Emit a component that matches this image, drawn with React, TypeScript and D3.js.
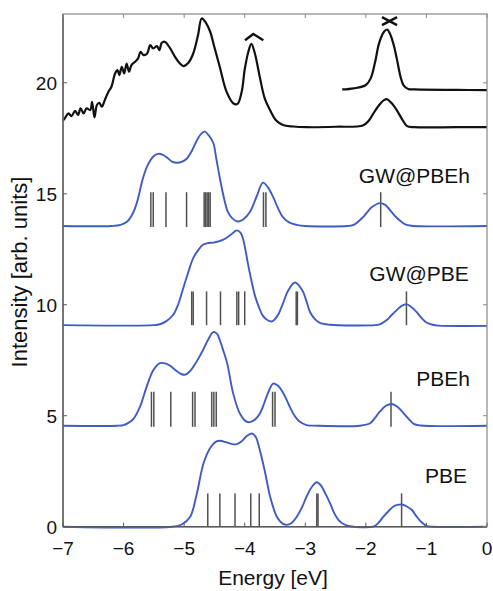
import React from "react";
import * as d3 from "d3";

// ---------- data ----------
const xTicks = [-7, -6, -5, -4, -3, -2, -1, 0];
const yTicks = [0, 5, 10, 15, 20];

// experimental spectrum (lower trace)
const expMain: [number, number][] = [
  [-7.0, 18.3], [-6.97, 18.4], [-6.91, 18.62], [-6.86, 18.5], [-6.8, 18.74], [-6.75, 18.55],
  [-6.71, 18.85], [-6.66, 18.62], [-6.61, 18.85], [-6.55, 18.77], [-6.52, 19.14], [-6.48, 18.44],
  [-6.44, 19.0], [-6.4, 19.1], [-6.36, 18.92], [-6.31, 19.22], [-6.25, 19.6], [-6.2, 19.82],
  [-6.14, 20.42], [-6.1, 20.57], [-6.07, 20.35], [-6.03, 20.72], [-5.99, 20.42], [-5.95, 20.87],
  [-5.91, 20.5], [-5.87, 20.8], [-5.81, 20.95], [-5.76, 21.1], [-5.72, 21.4], [-5.67, 21.25],
  [-5.61, 21.32], [-5.56, 21.7], [-5.51, 21.55], [-5.45, 21.65], [-5.41, 21.47], [-5.37, 21.8],
  [-5.32, 21.85], [-5.23, 21.55], [-5.15, 21.17], [-5.07, 20.87], [-5.01, 20.75], [-4.93, 20.9],
  [-4.85, 21.32], [-4.77, 22.15], [-4.71, 22.9], [-4.64, 22.7], [-4.57, 22.3], [-4.5, 21.6],
  [-4.41, 20.7], [-4.3, 19.6], [-4.19, 19.08], [-4.12, 19.05], [-4.05, 19.6], [-4.0, 20.6],
  [-3.94, 21.4], [-3.89, 21.75], [-3.83, 21.3], [-3.75, 20.25], [-3.67, 19.3], [-3.58, 18.76],
  [-3.48, 18.3], [-3.37, 18.1], [-3.2, 18.03], [-2.97, 18.0], [-2.5, 18.02], [-2.05, 18.08],
  [-1.95, 18.3], [-1.88, 18.6], [-1.78, 19.0], [-1.7, 19.22], [-1.65, 19.26], [-1.58, 19.1],
  [-1.49, 18.77], [-1.4, 18.35], [-1.32, 18.05], [-1.2, 18.0], [-0.5, 18.0], [0, 18.0],
];
// experimental spectrum (upper trace)
const expUpper: [number, number][] = [
  [-2.39, 19.7], [-2.2, 19.75], [-2.0, 19.9], [-1.92, 20.2], [-1.85, 20.9], [-1.78, 21.8],
  [-1.7, 22.3], [-1.65, 22.4], [-1.6, 22.2], [-1.54, 21.7], [-1.49, 21.1], [-1.43, 20.3],
  [-1.38, 19.9], [-1.3, 19.72], [-1.2, 19.7], [-0.5, 19.68], [0, 19.67],
];

const pbe: [number, number][] = [
  [-7, 0], [-5.2, 0], [-5.04, 0.1], [-4.9, 0.45], [-4.79, 1.5], [-4.68, 2.86], [-4.57, 3.55],
  [-4.48, 3.82], [-4.41, 3.87], [-4.3, 3.8], [-4.2, 3.72], [-4.13, 3.72], [-4.05, 3.85],
  [-3.97, 4.08], [-3.88, 4.2], [-3.82, 4.05], [-3.75, 3.45], [-3.66, 2.4], [-3.58, 1.35],
  [-3.47, 0.45], [-3.38, 0.15], [-3.31, 0.08], [-3.22, 0.18], [-3.14, 0.45], [-3.05, 0.9],
  [-2.98, 1.35], [-2.89, 1.8], [-2.81, 2.0], [-2.74, 1.85], [-2.67, 1.5], [-2.59, 1.05],
  [-2.52, 0.6], [-2.45, 0.3], [-2.37, 0.12], [-2.26, 0.02], [-1.88, 0], [-1.8, 0.15],
  [-1.71, 0.45], [-1.62, 0.72], [-1.55, 0.9], [-1.48, 0.98], [-1.41, 1.0], [-1.33, 0.92],
  [-1.24, 0.75], [-1.16, 0.45], [-1.08, 0.2], [-0.99, 0.03], [-0.9, 0], [0, 0],
];
const pbeh: [number, number][] = [
  [-7, 4.55], [-6.1, 4.55], [-6.0, 4.58], [-5.92, 4.68], [-5.84, 4.85], [-5.73, 5.4],
  [-5.62, 6.3], [-5.51, 7.05], [-5.4, 7.37], [-5.3, 7.35], [-5.23, 7.25], [-5.14, 7.05],
  [-5.05, 6.88], [-4.98, 6.85], [-4.9, 7.02], [-4.85, 7.2], [-4.77, 7.55], [-4.69, 7.95],
  [-4.6, 8.45], [-4.52, 8.77], [-4.46, 8.7], [-4.41, 8.4], [-4.35, 7.9], [-4.29, 7.37],
  [-4.19, 6.0], [-4.08, 5.1], [-3.97, 4.73], [-3.9, 4.72], [-3.82, 4.85], [-3.75, 5.1],
  [-3.68, 5.55], [-3.62, 6.0], [-3.53, 6.45], [-3.45, 6.35], [-3.36, 6.0], [-3.28, 5.55],
  [-3.2, 5.1], [-3.1, 4.75], [-2.98, 4.58], [-2.8, 4.55], [-2.1, 4.55], [-1.93, 4.66],
  [-1.85, 4.9], [-1.77, 5.18], [-1.67, 5.45], [-1.57, 5.53], [-1.48, 5.4], [-1.38, 5.12],
  [-1.29, 4.85], [-1.21, 4.63], [-1.1, 4.56], [0, 4.55],
];
const gwPbe: [number, number][] = [
  [-7, 9.08], [-5.5, 9.08], [-5.4, 9.12], [-5.3, 9.25], [-5.18, 9.55], [-5.1, 10.0],
  [-5.02, 10.7], [-4.94, 11.4], [-4.85, 12.1], [-4.77, 12.45], [-4.69, 12.7], [-4.6, 12.78],
  [-4.52, 12.8], [-4.44, 12.85], [-4.36, 12.92], [-4.28, 13.05], [-4.21, 13.2], [-4.13, 13.35],
  [-4.07, 13.25], [-4.03, 13.0], [-3.99, 12.5], [-3.95, 11.9], [-3.89, 11.1], [-3.83, 10.4],
  [-3.76, 9.85], [-3.7, 9.5], [-3.62, 9.3], [-3.55, 9.25], [-3.46, 9.5], [-3.38, 9.98],
  [-3.28, 10.65], [-3.17, 11.0], [-3.05, 10.65], [-2.98, 10.15], [-2.92, 9.66], [-2.84, 9.35],
  [-2.76, 9.18], [-2.6, 9.1], [-1.85, 9.08], [-1.77, 9.12], [-1.66, 9.3], [-1.57, 9.55],
  [-1.49, 9.76], [-1.41, 9.95], [-1.33, 10.03], [-1.25, 9.9], [-1.16, 9.67], [-1.08, 9.4],
  [-1.0, 9.2], [-0.9, 9.1], [-0.8, 9.06], [0, 9.05],
];
const gwPbeh: [number, number][] = [
  [-7, 13.55], [-6.2, 13.55], [-6.05, 13.6], [-5.94, 13.75], [-5.85, 14.1], [-5.78, 14.6],
  [-5.68, 15.7], [-5.6, 16.3], [-5.5, 16.7], [-5.43, 16.8], [-5.35, 16.75], [-5.27, 16.6],
  [-5.2, 16.45], [-5.12, 16.4], [-5.03, 16.45], [-4.95, 16.6], [-4.87, 16.95], [-4.79, 17.4],
  [-4.72, 17.7], [-4.66, 17.8], [-4.6, 17.65], [-4.52, 17.3], [-4.47, 16.6], [-4.41, 15.7],
  [-4.35, 14.9], [-4.28, 14.2], [-4.2, 13.88], [-4.11, 13.75], [-4.02, 13.85], [-3.91, 14.2],
  [-3.8, 14.9], [-3.7, 15.5], [-3.62, 15.3], [-3.53, 14.85], [-3.45, 14.35], [-3.37, 13.95],
  [-3.26, 13.7], [-3.14, 13.6], [-3.0, 13.55], [-2.3, 13.55], [-2.2, 13.6], [-2.05, 13.94],
  [-1.97, 14.2], [-1.9, 14.4], [-1.77, 14.58], [-1.68, 14.5], [-1.6, 14.26], [-1.52, 14.0],
  [-1.44, 13.8], [-1.35, 13.62], [-1.25, 13.56], [0, 13.55],
];

// stick energies for each method
const pbeSticks = [-4.61, -4.41, -4.16, -3.9, -3.76, -2.81, -2.79, -1.41];
const pbehSticks = [-5.54, -5.5, -5.22, -4.86, -4.82, -4.545, -4.51, -4.47, -3.54, -3.5, -1.585];
const gwPbeSticks = [-4.875, -4.85, -4.63, -4.4, -4.13, -4.1, -4.0, -3.15, -3.13, -1.33];
const gwPbehSticks = [-5.55, -5.51, -5.3, -4.96, -4.67, -4.645, -4.62, -4.595, -4.57, -3.69, -3.65, -1.755];

// stick baselines/tops (intensity units)
const stickBase = [0, 4.5, 9.08, 13.5];
const stickTop = [1.5, 6.08, 10.6, 15.07];

const methodLabels = ["PBE", "PBEh", "GW@PBE", "GW@PBEh"];
const labelAnchorE = [-0.33, -0.28, -0.3, -0.28];
const labelAnchorI = [1.99, 6.35, 11.05, 15.5];

// annotation marks above experimental peaks
const caretMark: [number, number][] = [[-3.995, 21.92], [-3.858, 22.2], [-3.693, 21.92]];
const crossMarkA: [number, number][] = [[-1.733, 22.96], [-1.485, 22.6]];
const crossMarkB: [number, number][] = [[-1.733, 22.6], [-1.485, 22.96]];

// ---------- layout ----------
const W = 493;
const H = 591;
const left = 63;
const right = 487;
const top = 14;
const bottom = 526.7;

export default function App() {
  const x = d3.scaleLinear().domain([-7, 0]).range([left, right]);
  const y = d3.scaleLinear().domain([0, 23.1]).range([bottom, top]);

  const smooth = d3
    .line<[number, number]>()
    .x((d) => x(d[0]))
    .y((d) => y(d[1]))
    .curve(d3.curveCatmullRom.alpha(0.5));
  const straight = d3
    .line<[number, number]>()
    .x((d) => x(d[0]))
    .y((d) => y(d[1]));

  const blue = "#3f5cc4";
  const frame = "#5a5a5a";
  const font = "'Liberation Sans', Arial, Helvetica, sans-serif";
  const fmt = d3.format("");

  const curves = [pbe, pbeh, gwPbe, gwPbeh];
  const sticks = [pbeSticks, pbehSticks, gwPbeSticks, gwPbehSticks];

  return (
    <svg
      width={W}
      height={H}
      style={{ position: "absolute", left: 0, top: 0, background: "#fff" }}
      fontFamily={font}
    >
      <rect x={0} y={0} width={W} height={H} fill="#fff" />
      {/* sticks */}
      {sticks.map((arr, i) =>
        arr.map((e, j) => (
          <line
            key={`s${i}-${j}`}
            x1={x(e)}
            x2={x(e)}
            y1={y(stickBase[i])}
            y2={y(stickTop[i])}
            stroke="#505050"
            strokeWidth={1.5}
          />
        ))
      )}
      {/* computed spectra */}
      {curves.map((c, i) => (
        <path key={`c${i}`} d={smooth(c) || ""} fill="none" stroke={blue} strokeWidth={1.9} />
      ))}
      {/* experiment */}
      <path d={smooth(expMain) || ""} fill="none" stroke="#111" strokeWidth={2.2} strokeLinejoin="round" />
      <path d={smooth(expUpper) || ""} fill="none" stroke="#111" strokeWidth={2.2} strokeLinejoin="round" />
      <path d={straight(caretMark) || ""} fill="none" stroke="#111" strokeWidth={2.4} />
      <path d={straight(crossMarkA) || ""} fill="none" stroke="#111" strokeWidth={2.4} />
      <path d={straight(crossMarkB) || ""} fill="none" stroke="#111" strokeWidth={2.4} />

      {/* frame */}
      <rect x={left} y={top} width={right - left} height={bottom - top} fill="none" stroke="#888" strokeWidth={1.2} />
      <line x1={left} x2={right} y1={bottom} y2={bottom} stroke={frame} strokeWidth={1.4} />
      <line x1={left} x2={left} y1={top} y2={bottom} stroke={frame} strokeWidth={1.4} />
      {/* x ticks */}
      {xTicks.map((t) => (
        <g key={`xt${t}`}>
          <line x1={x(t)} x2={x(t)} y1={bottom} y2={bottom - 4} stroke={frame} />
          <line x1={x(t)} x2={x(t)} y1={top} y2={top + 4} stroke="#888" />
          <text x={x(t)} y={555} textAnchor="middle" fontSize={19} fill="#111">
            {fmt(t)}
          </text>
        </g>
      ))}
      {/* y ticks */}
      {yTicks.map((t) => (
        <g key={`yt${t}`}>
          <line x1={left} x2={left + 4} y1={y(t)} y2={y(t)} stroke={frame} />
          <line x1={right} x2={right - 4} y1={y(t)} y2={y(t)} stroke="#888" />
          <text x={57} y={y(t)} dy="0.36em" textAnchor="end" fontSize={19} fill="#111">
            {fmt(t)}
          </text>
        </g>
      ))}
      {/* method labels */}
      {methodLabels.map((l, i) => (
        <text key={l} x={x(labelAnchorE[i])} y={y(labelAnchorI[i])} textAnchor="end" fontSize={21} fill="#111">
          {l}
        </text>
      ))}
      {/* axis titles */}
      <text x={(left + right) / 2 - 2} y={585} textAnchor="middle" fontSize={21} fill="#111">
        Energy [eV]
      </text>
      <text
        transform={`translate(27, 272) rotate(-90)`}
        textAnchor="middle"
        fontSize={22}
        fill="#111"
      >
        Intensity [arb. units]
      </text>
    </svg>
  );
}
